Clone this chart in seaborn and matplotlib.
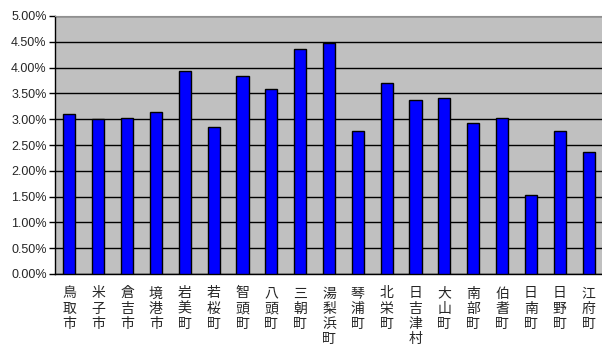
import matplotlib
matplotlib.use("Agg")
import matplotlib.pyplot as plt
import seaborn as sns
import pandas as pd
from matplotlib.ticker import MultipleLocator, FuncFormatter, FixedLocator

# municipalities in Tottori prefecture
towns = ["鳥取市", "米子市", "倉吉市", "境港市", "岩美町", "若桜町", "智頭町", "八頭町",
         "三朝町", "湯梨浜町", "琴浦町", "北栄町", "日吉津村", "大山町", "南部町", "伯耆町",
         "日南町", "日野町", "江府町"]
rates = [3.10, 3.01, 3.02, 3.13, 3.93, 2.84, 3.83, 3.58,
         4.37, 4.48, 2.77, 3.70, 3.38, 3.42, 2.92, 3.02,
         1.54, 2.78, 2.36]

df = pd.DataFrame({"town": towns, "rate": rates})

sns.set_style("white")
plt.rcParams['font.family'] = ['Liberation Sans', 'Noto Sans CJK JP', 'DejaVu Sans']

fig = plt.figure(figsize=(6.02, 3.45), dpi=100)
ax = fig.add_axes([55 / 602, 1 - 274 / 345, 548 / 602, 258 / 345])
ax.set_facecolor("#c0c0c0")

sns.barplot(data=df, x="town", y="rate", color="#0000ff", edgecolor="black",
            linewidth=1, width=0.42, saturation=1, ax=ax, zorder=3)

ax.set_ylim(0, 5)
ax.set_xlim(-0.5, len(towns) - 0.5)
ax.yaxis.set_major_locator(MultipleLocator(0.5))
ax.yaxis.set_major_formatter(FuncFormatter(lambda v, p: f"{v:.2f}%"))
ax.grid(axis="y", color="black", linewidth=1, zorder=1)
ax.set_axisbelow(True)

# vertical labels, one char per line
ax.set_xticks(range(len(towns)))
ax.set_xticklabels(["\n".join(t) for t in towns], family=['Noto Sans CJK JP'],
                   fontsize=10, va="top", linespacing=1.12)
ax.tick_params(axis="x", length=0, pad=9)
ax.xaxis.set_minor_locator(FixedLocator([i + 0.5 for i in range(len(towns) - 1)]))
ax.tick_params(axis="x", which="minor", direction="in", length=4, width=1, color="black")
ax.tick_params(axis="y", length=4, width=1, color="black", labelsize=9, pad=2, left=True)

ax.set_xlabel("")
ax.set_ylabel("")
for s in ["left", "bottom"]:
    ax.spines[s].set_color("black")
    ax.spines[s].set_linewidth(1)
ax.spines["top"].set_color("#909090")
ax.spines["right"].set_visible(False)

fig.savefig("out.png", dpi=100)
